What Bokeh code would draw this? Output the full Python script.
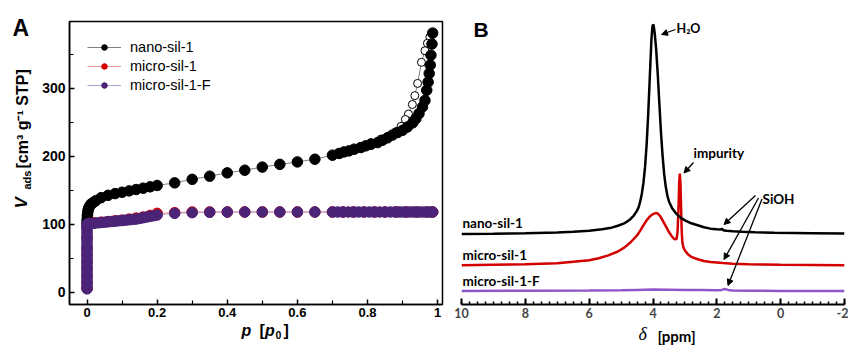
import numpy as np
from math import pi
from bokeh.plotting import figure
from bokeh.models import (Range1d, FixedTicker, Label, Arrow, NormalHead,
                          Legend, LegendItem)
from bokeh.layouts import row, column
from bokeh.embed import file_html
from bokeh.resources import INLINE

# ---------------- Panel A data (N2 isotherms) ----------------
nano_ads_p = [0.0, 0.0, 0.001, 0.001, 0.002, 0.003, 0.005, 0.008,
              0.012, 0.018, 0.025, 0.04, 0.06, 0.08, 0.10, 0.12, 0.14, 0.16, 0.18, 0.2,
              0.25, 0.3, 0.35, 0.4, 0.45, 0.5, 0.55, 0.6, 0.65, 0.7,
              0.719, 0.733, 0.747, 0.762, 0.781, 0.795, 0.81, 0.829, 0.843, 0.857,
              0.871, 0.886, 0.9, 0.914, 0.929, 0.938, 0.947, 0.957, 0.964, 0.969,
              0.973, 0.976, 0.979, 0.981, 0.984, 0.986]
nano_ads_v = [101, 105, 109, 113, 117, 121, 124, 127,
              130, 132, 134.5, 139, 142.5, 145, 147, 149, 151, 153, 155, 157,
              160.8, 166, 170.6, 175.5, 179.4, 184, 188, 191.6, 195.6, 201.5,
              204, 206.3, 207.8, 210.3, 212.7, 215.2, 217.6, 220, 223.5, 227,
              231, 234.8, 238, 243, 249, 255, 262.7, 272.5, 282, 297,
              309, 321.6, 334, 348.5, 365, 381]
nano_des_p = [0.986, 0.978, 0.971, 0.964, 0.954, 0.943, 0.935, 0.928, 0.917, 0.908,
              0.896, 0.881, 0.862, 0.838, 0.81, 0.78, 0.75, 0.72]
nano_des_v = [381, 375, 366, 355, 338, 307, 289, 276, 262, 254,
              244, 236, 230, 225, 220, 214, 209, 205]

micro_p = [0.0, 0.0, 0.0, 0.0, 0.0, 0.0, 0.0, 0.0, 0.0, 0.005, 0.02, 0.04, 0.06, 0.08,
           0.10, 0.12, 0.14, 0.16, 0.18, 0.2, 0.25, 0.3, 0.35, 0.4, 0.45, 0.5, 0.55,
           0.6, 0.65, 0.7, 0.73, 0.76, 0.79, 0.82, 0.85, 0.88, 0.91, 0.94, 0.97, 0.986]
micro_v = [6, 15, 25, 35, 45, 55, 65, 80, 95, 101, 102, 103, 104, 105,
           106, 107.5, 109, 110.5, 113, 116, 117, 118, 118, 118, 118, 118, 118,
           118, 118, 118, 118, 118, 118, 118, 118, 118, 118, 118, 118, 118]

microF_p = [0.0, 0.0, 0.0, 0.0, 0.0, 0.0, 0.0, 0.0, 0.0, 0.0, 0.0, 0.0, 0.0,
            0.0, 0.0, 0.0, 0.0, 0.0, 0.0, 0.0, 0.0, 0.0, 0.0, 0.0, 0.0,
            0.005, 0.02, 0.03, 0.04, 0.05, 0.06, 0.07, 0.08, 0.09, 0.1, 0.11, 0.12,
            0.13, 0.14, 0.15, 0.16, 0.17, 0.18, 0.19, 0.2, 0.25, 0.3, 0.35, 0.4,
            0.45, 0.5, 0.55, 0.6, 0.65, 0.7, 0.715, 0.73, 0.745, 0.76, 0.775, 0.79,
            0.805, 0.82, 0.835, 0.85, 0.865, 0.88, 0.89, 0.9, 0.91, 0.92, 0.93,
            0.94, 0.95, 0.96, 0.97, 0.98, 0.986]
microF_v = [5, 9, 13, 17, 21, 25, 29, 33, 37, 41, 45, 49, 53,
            57, 61, 65, 69, 73, 77, 81, 85, 89, 93, 97, 100,
            101, 101.5, 102, 102.5, 103, 103.5, 104, 104.5, 105, 105.5, 106, 106.5,
            107, 107.5, 108.5, 109.5, 110.5, 111.5, 112.5, 113.5, 116, 117, 117.5, 118,
            118, 118, 118, 118, 118, 118, 118, 118, 118, 118, 118, 118,
            118, 118, 118, 118, 118, 118, 118, 118, 118, 118, 118,
            118, 118, 118, 118, 118, 118]

a_yticks = [0, 100, 200, 300]
a_yminor = [50, 150, 250, 350]
a_xticks = [0, 0.2, 0.4, 0.6, 0.8, 1.0]
a_xminor = [0.1, 0.3, 0.5, 0.7, 0.9]
a_xlabels = {0: "0", 0.2: "0.2", 0.4: "0.4", 0.6: "0.6", 0.8: "0.8", 1.0: "1"}
A_XMIN, A_XMAX = -0.05, 1.014
A_YMIN, A_YMAX = -18, 398

# ---------------- Panel B data (1H NMR spectra, offset) ----------------
nano_ppm = [10.0, 9.0, 8.0, 7.0, 6.5, 6.0, 5.6, 5.3, 5.1, 4.9, 4.8, 4.7, 4.6, 4.5,
            4.45, 4.4, 4.35, 4.3, 4.25, 4.2, 4.15, 4.1, 4.05, 4.02, 4.0, 3.98, 3.95,
            3.9, 3.85, 3.8, 3.75, 3.7, 3.65, 3.6, 3.55, 3.5, 3.4, 3.3, 3.2, 3.1, 3.0,
            2.8, 2.6, 2.4, 2.2, 2.0, 1.9, 1.84, 1.8, 1.7, 1.5, 1.2, 0.8, 0.2, -1.0, -2.0]
nano_int = [72.5, 72.8, 73.3, 74.0, 74.7, 75.8, 77.3, 79.0, 81.0, 83.5, 85.5, 88.0, 91.5, 96.5,
            100.0, 106.0, 114.0, 125.0, 141.0, 164.0, 196.0, 234.0, 272.0, 285.0, 288.0, 287.0, 280.0,
            262.0, 236.0, 206.0, 177.0, 153.0, 134.0, 121.0, 112.0, 106.0, 99.0, 94.5, 91.0, 88.5, 86.5,
            83.5, 81.5, 79.5, 78.0, 77.3, 77.0, 77.6, 76.4, 75.8, 75.3, 74.8, 74.2, 73.7, 73.3, 73.0]

micro_ppm = [10.0, 9.0, 8.0, 7.0, 6.5, 6.0, 5.7, 5.4, 5.1, 4.9, 4.7, 4.5, 4.4, 4.3, 4.2,
             4.1, 4.0, 3.92, 3.85, 3.78, 3.7, 3.6, 3.5, 3.42, 3.35, 3.3, 3.26, 3.23, 3.2,
             3.18, 3.16, 3.14, 3.12, 3.1, 3.08, 3.05, 3.0, 2.9, 2.8, 2.6, 2.4, 2.2, 2.0,
             1.8, 1.5, 1.0, 0.0, -1.0, -2.0]
micro_int = [40.3, 40.8, 41.3, 42.5, 44.0, 45.5, 47.5, 50.5, 54.5, 58.5, 64.0, 71.0, 76.0, 81.5, 86.5,
             90.5, 93.0, 94.0, 93.5, 91.0, 86.5, 80.5, 74.5, 70.5, 67.8, 67.0, 67.5, 75.0, 100.0,
             125.0, 134.5, 125.0, 100.0, 75.0, 64.0, 59.0, 55.5, 51.5, 49.0, 46.5, 44.8, 43.8, 43.2,
             42.6, 42.0, 41.4, 40.9, 40.6, 40.3]

microF_ppm = [10.0, 8.0, 6.0, 5.0, 4.5, 4.0, 3.5, 3.0, 2.5, 2.0, 1.85, 1.75, 1.65, 1.5, 1.0, 0.0, -2.0]
microF_int = [14.0, 14.2, 14.4, 14.7, 15.0, 15.3, 15.2, 15.0, 14.8, 14.6, 15.0, 16.0, 15.0, 14.3, 14.1, 14.0, 14.0]

b_xticks = [10, 8, 6, 4, 2, 0, -2]
b_xlabels = {10: "10", 8: "8", 6: "6", 4: "4", 2: "2", 0: "0", -2: "-2"}
B_YTOP = 291              # intensity range shown in panel B (room for the H2O peak)

ARIAL = "Liberation Sans"
CAL = "Lato"
TOP, BOT = 21, 18         # borders of the two panels (frames aligned in one row)
ROW_H = 322
BASE_K = 0.4              # measured: rendered baseline sits this many font-sizes below the anchor


def bare(width, height, x0, x1, y0, y1):
    """Figure without axes whose frame is the whole canvas, used only to hold text."""
    f = figure(width=width, height=height, output_backend="svg", toolbar_location=None,
               title_location=None, x_axis_location=None, y_axis_location=None,
               x_range=Range1d(x0, x1), y_range=Range1d(y0, y1),
               min_border_left=0, min_border_right=0, min_border_top=0, min_border_bottom=0)
    f.grid.visible = False
    f.outline_line_color = None
    f.background_fill_color = "white"
    f.border_fill_color = "white"
    return f


def ident(px, py):
    return px, py


def add_label(fig, conv, text, px, py, size, style="bold", rotated=False, font=ARIAL, k=BASE_K):
    """px, py: wanted position (in page pixels) of the start of the text baseline."""
    if rotated:
        px = px - k * size
    else:
        py = py - k * size
    x, y = conv(px, py)
    fig.add_layout(Label(x=x, y=y, text=text, angle=pi / 2 if rotated else 0.0,
                         text_font=font, text_font_style=style,
                         text_font_size=f"{size}px", text_color="black",
                         text_align="left", text_baseline="alphabetic"))


# ================= left strip: panel letter A and y-axis title =================
figL = bare(35, 345, 0, 35, 345, 0)
add_label(figL, ident, "A", 12, 37, 23)
add_label(figL, ident, "V", 28, 208, 17, style="bold italic", rotated=True)
add_label(figL, ident, "ads", 31, 189, 11, rotated=True)
add_label(figL, ident, "[cm³ g⁻¹ STP]", 28, 168, 16, rotated=True)

# ================= Panel A =================
pA = figure(width=410, height=ROW_H, output_backend="svg", toolbar_location=None,
            title_location=None,
            x_range=Range1d(A_XMIN, A_XMAX), y_range=Range1d(A_YMIN, A_YMAX),
            min_border_left=34, min_border_right=3, min_border_top=TOP, min_border_bottom=BOT)
pA.grid.visible = False
pA.outline_line_color = "black"
pA.outline_line_width = 1.5
pA.background_fill_color = "white"
pA.border_fill_color = "white"

for ax_ in (pA.xaxis[0], pA.yaxis[0]):
    ax_.axis_line_width = 1.5
    ax_.axis_line_color = "black"
    ax_.major_tick_in = 5
    ax_.major_tick_out = 0
    ax_.minor_tick_in = 4
    ax_.minor_tick_out = 0
    ax_.major_tick_line_width = 1.5
    ax_.minor_tick_line_width = 1.2
    ax_.major_label_text_font = ARIAL
    ax_.major_label_text_font_style = "bold"
    ax_.major_label_text_color = "black"
pA.yaxis.major_label_text_font_size = "14px"
pA.yaxis.major_label_standoff = 4
pA.xaxis.major_label_text_font_size = "13px"
pA.xaxis.major_label_standoff = 3
pA.yaxis.ticker = FixedTicker(ticks=a_yticks, minor_ticks=a_yminor)
pA.xaxis.ticker = FixedTicker(ticks=a_xticks, minor_ticks=a_xminor)
pA.xaxis.major_label_overrides = a_xlabels

# nano-sil-1 desorption (open)
pA.line(nano_des_p, nano_des_v, line_color="#808080", line_width=1)
pA.scatter(nano_des_p, nano_des_v, size=8, fill_color="white", line_color="black", line_width=1)
# nano-sil-1 adsorption
lb = pA.line(nano_ads_p, nano_ads_v, line_color="#808080", line_width=1)
sb = pA.scatter(nano_ads_p, nano_ads_v, size=10.5, fill_color="black", line_color="black")
# micro-sil-1 (red, mostly hidden)
lr = pA.line(micro_p, micro_v, line_color="#f09090", line_width=1)
sr = pA.scatter(micro_p, micro_v, size=10.5, fill_color="#d40000", line_color="#d40000")
# micro-sil-1-F (purple)
lp = pA.line(microF_p, microF_v, line_color="#b39bcc", line_width=1)
sp = pA.scatter(microF_p, microF_v, size=10.5, fill_color="#4b2377", line_color="#4b2377")

legend = Legend(items=[LegendItem(label="nano-sil-1", renderers=[lb, sb]),
                       LegendItem(label="micro-sil-1", renderers=[lr, sr]),
                       LegendItem(label="micro-sil-1-F", renderers=[lp, sp])],
                location="top_left", margin=18, padding=0, glyph_width=34, glyph_height=14,
                label_height=14, spacing=3, label_standoff=9,
                border_line_color=None, background_fill_alpha=0,
                label_text_font=ARIAL, label_text_font_size="14.5px", label_text_color="black")
pA.add_layout(legend)

# ================= Panel B =================
pB = figure(width=403, height=ROW_H, output_backend="svg", toolbar_location=None,
            title_location=None,
            x_range=Range1d(10, -2), y_range=Range1d(0, B_YTOP),
            min_border_left=16, min_border_right=4, min_border_top=TOP, min_border_bottom=BOT)
pB.grid.visible = False
pB.outline_line_color = None
pB.yaxis.visible = False
pB.background_fill_color = "white"
pB.border_fill_color = "white"
xb = pB.xaxis[0]
xb.ticker = FixedTicker(ticks=b_xticks, minor_ticks=list(np.arange(10, -2.01, -0.25)))
xb.major_label_overrides = b_xlabels
xb.axis_line_width = 2
xb.major_tick_in = 6
xb.major_tick_out = 0
xb.minor_tick_in = 3
xb.minor_tick_out = 0
xb.major_tick_line_width = 2
xb.minor_tick_line_width = 1.5
xb.major_label_text_font = CAL
xb.major_label_text_font_style = "bold"
xb.major_label_text_font_size = "12.5px"
xb.major_label_standoff = 3

pB.line(microF_ppm, microF_int, line_color="#8e57c9", line_width=2.5)
pB.line(micro_ppm, micro_int, line_color="#d40000", line_width=2.5)
pB.line(nano_ppm, nano_int, line_color="black", line_width=2.5)

b_frame_h = 304 - TOP


def convB(px, py):
    return 10 - (px - 461) * 12 / 383, (304 - py) * B_YTOP / b_frame_h


add_label(pB, convB, "B", 473, 37, 21)
add_label(pB, convB, "nano-sil-1", 462, 227, 13.5, font=CAL, k=0.37)
add_label(pB, convB, "micro-sil-1", 462, 259, 13.5, font=CAL, k=0.37)
add_label(pB, convB, "micro-sil-1-F", 462, 285, 13.5, font=CAL, k=0.37)
add_label(pB, convB, "H₂O", 676, 33, 12.5, font=CAL, k=0.37)
add_label(pB, convB, "impurity", 693, 157, 13.5, font=CAL, k=0.37)
add_label(pB, convB, "SiOH", 762, 203, 13.5, font=CAL, k=0.37)


def arrB(x0, y0, x1, y1):
    xs, ys = convB(x0, y0)
    xe, ye = convB(x1, y1)
    pB.add_layout(Arrow(end=NormalHead(size=6, fill_color="black", line_color="black", line_width=1),
                        x_start=xs, y_start=ys, x_end=xe, y_end=ye,
                        line_color="black", line_width=1.3))


arrB(675, 29, 661, 34)
arrB(693, 162, 683.5, 172.5)
arrB(755, 195, 723.5, 224)
arrB(758, 197.5, 723.5, 259)
arrB(761.5, 198.5, 727.5, 285)

# ================= bottom strip: x-axis titles =================
figBot = bare(813, 345 - ROW_H, 35, 848, 345, ROW_H)
add_label(figBot, ident, "p", 241, 336.5, 16, style="bold italic")
add_label(figBot, ident, "[", 259, 336.5, 16)
add_label(figBot, ident, "p", 264.5, 336.5, 16, style="bold italic")
add_label(figBot, ident, "0", 275, 339, 10.5)
add_label(figBot, ident, "]", 283, 336.5, 16)
add_label(figBot, ident, "δ", 638, 341, 18, style="italic", font="Liberation Serif")
add_label(figBot, ident, "[ppm]", 657, 341, 15, font=CAL, k=0.37)

layout = row(figL, column(row(pA, pB), figBot))
open("out.html", "w").write(file_html(layout, INLINE))
